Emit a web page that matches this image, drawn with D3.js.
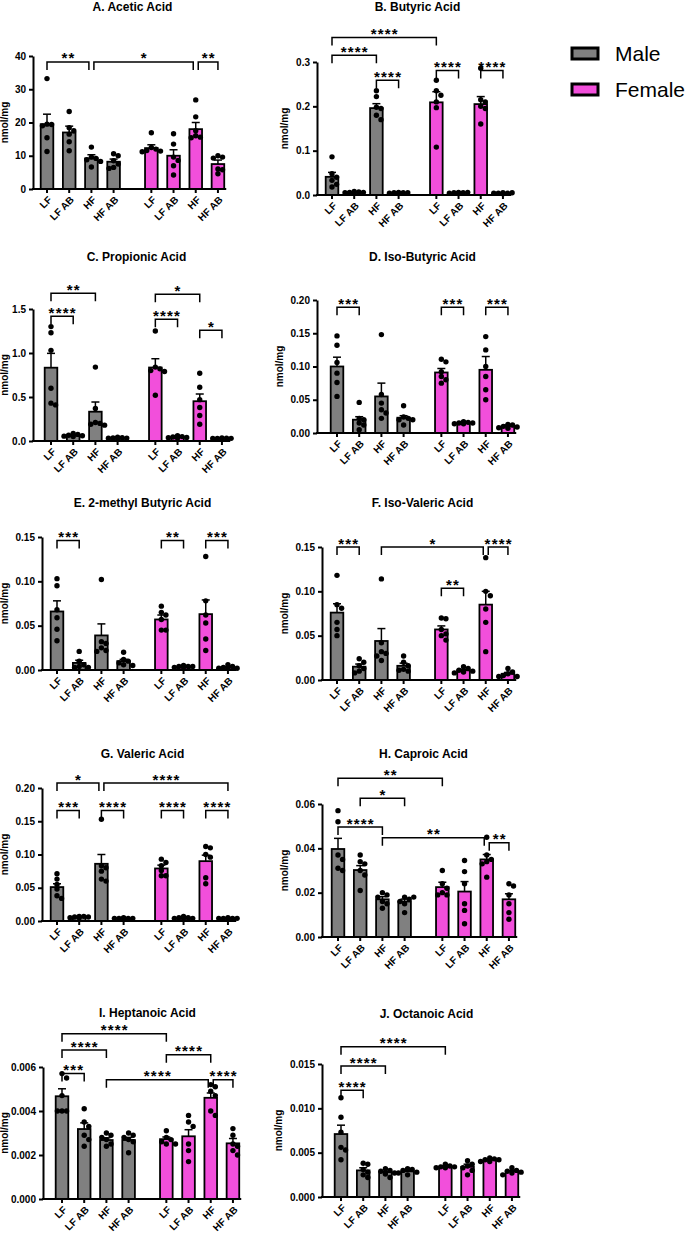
<!DOCTYPE html>
<html><head><meta charset="utf-8">
<script src="https://cdn.jsdelivr.net/npm/d3@7"></script>
<style>
body{margin:0;background:#fff}
svg{display:block}
text{font-family:"Liberation Sans", Arial, Helvetica, sans-serif}
</style>
</head><body>
<svg id="chart" width="688" height="1239"></svg>
<script>
// ---------- DATA ----------
const categories = ["LF","LF AB","HF","HF AB","LF","LF AB","HF","HF AB"];
const sexes = ["Male","Female"];
const sexOfBar = [0,0,0,0,1,1,1,1];

// A. Acetic Acid
const aceticMean = [19.5, 17.0, 9.2, 8.2, 12.3, 10.0, 18.0, 7.5];
const aceticSem  = [3.0, 1.9, 1.1, 0.8, 1.0, 1.8, 2.0, 1.2];
const aceticPts  = [[33.2,19.5,19.4,19.0,15.4,11.3],[23.3,18.4,17.5,16.5,14.2,11.5],[12.6,9.6,9.2,8.8,8.3,6.6],[10.6,10.0,8.5,7.5,6.5,6.2],
                    [16.9,12.5,12.0,11.6,11.4,11.2],[16.6,13.5,9.6,8.6,7.0,4.2],[26.8,21.7,17.5,16.0,15.6,15.4],[10.0,9.6,9.3,6.0,5.8,4.6]];
const aceticSig  = [[0,2,"**",38.2],[2,6,"*",38.2],[6,7,"**",38.2]];
const aceticTicks = [0,10,20,30,40];

// B. Butyric Acid
const butyricMean = [0.041, 0.006, 0.196, 0.005, 0.209, 0.005, 0.205, 0.004];
const butyricSem  = [0.010, 0.0006, 0.010, 0.0004, 0.024, 0.0005, 0.017, 0.0004];
const butyricPts  = [[0.086,0.048,0.040,0.033,0.024,0.018],[0.008,0.007,0.006,0.006,0.005,0.005],[0.235,0.222,0.198,0.195,0.18,0.17],[0.006,0.005,0.005,0.005,0.004,0.004],
                     [0.259,0.235,0.225,0.21,0.197,0.108],[0.006,0.006,0.005,0.005,0.004,0.004],[0.286,0.215,0.21,0.2,0.195,0.16],[0.005,0.005,0.004,0.004,0.004,0.003]];
const butyricSig  = [[0,4,"****",0.355],[0,2,"****",0.315],[2,3,"****",0.259],[4,5,"****",0.281],[6,7,"****",0.281]];
const butyricTicks = [0,0.1,0.2,0.3];

// C. Propionic Acid
const propionicMean = [0.833, 0.065, 0.333, 0.035, 0.835, 0.045, 0.452, 0.030];
const propionicSem  = [0.163, 0.005, 0.110, 0.003, 0.100, 0.005, 0.082, 0.003];
const propionicPts  = [[1.30,1.23,1.03,0.60,0.43,0.41],[0.085,0.075,0.065,0.06,0.055,0.05],[0.84,0.37,0.21,0.2,0.19,0.18],[0.042,0.038,0.035,0.033,0.032,0.03],
                       [1.25,0.84,0.82,0.80,0.79,0.52],[0.06,0.05,0.045,0.04,0.038,0.035],[0.77,0.61,0.47,0.38,0.29,0.19],[0.035,0.032,0.03,0.03,0.028,0.027]];
const propionicSig  = [[0,2,"**",1.678],[0,1,"****",1.417],[4,6,"*",1.667],[4,5,"****",1.383],[6,7,"*",1.258]];
const propionicTicks = [0,0.5,1.0,1.5];

// D. Iso-Butyric Acid
const isobutyricMean = [0.100, 0.020, 0.055, 0.023, 0.091, 0.015, 0.095, 0.010];
const isobutyricSem  = [0.014, 0.0045, 0.020, 0.003, 0.006, 0.002, 0.020, 0.002];
const isobutyricPts  = [[0.146,0.132,0.106,0.09,0.076,0.055],[0.046,0.022,0.02,0.015,0.012,0.005],[0.148,0.058,0.045,0.035,0.03,0.022],[0.041,0.024,0.022,0.02,0.02,0.012],
                        [0.111,0.107,0.092,0.085,0.08,0.075],[0.017,0.016,0.015,0.015,0.014,0.014],[0.145,0.125,0.1,0.085,0.065,0.05],[0.013,0.012,0.01,0.009,0.008,0.007]];
const isobutyricSig  = [[0,1,"***",0.189],[4,5,"***",0.189],[6,7,"***",0.189]];
const isobutyricTicks = [0,0.05,0.10,0.15,0.20];

// E. 2-methyl Butyric Acid
const methylbutyricMean = [0.066, 0.008, 0.039, 0.010, 0.057, 0.004, 0.063, 0.003];
const methylbutyricSem  = [0.012, 0.003, 0.013, 0.002, 0.005, 0.0005, 0.016, 0.0006];
const methylbutyricPts  = [[0.103,0.095,0.068,0.059,0.046,0.033],[0.021,0.01,0.006,0.004,0.003,0.003],[0.102,0.032,0.03,0.025,0.022,0.021],[0.02,0.012,0.01,0.008,0.006,0.005],
                           [0.072,0.065,0.062,0.057,0.045,0.045],[0.005,0.004,0.004,0.004,0.003,0.003],[0.128,0.078,0.062,0.053,0.035,0.022],[0.006,0.004,0.003,0.002,0.002,0.002]];
const methylbutyricSig  = [[0,1,"***",0.146],[4,5,"**",0.146],[6,7,"***",0.146]];
const methylbutyricTicks = [0,0.05,0.10,0.15];

// F. Iso-Valeric Acid
const isovalericMean = [0.076, 0.015, 0.044, 0.016, 0.057, 0.011, 0.085, 0.007];
const isovalericSem  = [0.010, 0.003, 0.014, 0.003, 0.004, 0.001, 0.015, 0.0015];
const isovalericPts  = [[0.118,0.085,0.081,0.065,0.057,0.05],[0.024,0.02,0.016,0.013,0.01,0.008],[0.114,0.042,0.032,0.03,0.027,0.022],[0.027,0.02,0.016,0.012,0.011,0.01],
                        [0.07,0.069,0.057,0.052,0.05,0.045],[0.015,0.013,0.011,0.01,0.009,0.008],[0.138,0.1,0.095,0.08,0.065,0.032],[0.013,0.009,0.007,0.005,0.004,0.004]];
const isovalericSig  = [[0,1,"***",0.15],[2,6,"*",0.15],[6,7,"****",0.15],[4,5,"**",0.1034]];
const isovalericTicks = [0,0.05,0.10,0.15];

// G. Valeric Acid
const valericMean = [0.051, 0.006, 0.086, 0.004, 0.079, 0.005, 0.090, 0.004];
const valericSem  = [0.005, 0.0005, 0.014, 0.0003, 0.005, 0.0005, 0.009, 0.0003];
const valericPts  = [[0.071,0.063,0.055,0.048,0.038,0.034],[0.007,0.007,0.006,0.006,0.005,0.005],[0.153,0.083,0.08,0.075,0.063,0.06],[0.005,0.004,0.004,0.004,0.004,0.004],
                     [0.093,0.088,0.083,0.076,0.068,0.068],[0.007,0.005,0.005,0.004,0.004,0.004],[0.112,0.11,0.1,0.096,0.065,0.056],[0.005,0.004,0.004,0.004,0.004,0.004]];
const valericSig  = [[0,2,"*",0.2075],[2,7,"****",0.2075],[0,1,"***",0.166],[2,3,"****",0.166],[4,5,"****",0.166],[6,7,"****",0.166]];
const valericTicks = [0,0.05,0.10,0.15,0.20];

// H. Caproic Acid
const caproicMean = [0.0397, 0.0302, 0.0170, 0.0160, 0.0225, 0.0205, 0.0350, 0.0170];
const caproicSem  = [0.0048, 0.0020, 0.0012, 0.0011, 0.0022, 0.0045, 0.0022, 0.0025];
const caproicPts  = [[0.057,0.052,0.037,0.035,0.031,0.030],[0.037,0.034,0.033,0.030,0.028,0.021],[0.020,0.019,0.018,0.016,0.015,0.013],[0.018,0.018,0.017,0.016,0.015,0.011],
                     [0.030,0.024,0.022,0.020,0.019,0.019],[0.0345,0.0295,0.024,0.015,0.012,0.006],[0.045,0.037,0.035,0.034,0.033,0.027],[0.024,0.023,0.019,0.015,0.011,0.008]];
const caproicSig  = [[0,4,"**",0.0716],[1,3,"*",0.0626],[0,2,"****",0.0496],[2,6,"**",0.0448],[6,7,"**",0.0425]];
const caproicTicks = [0,0.02,0.04,0.06];

// I. Heptanoic Acid
const heptanoicMean = [0.00467, 0.00318, 0.00268, 0.00268, 0.00272, 0.00285, 0.00460, 0.00253];
const heptanoicSem  = [0.00034, 0.00028, 0.00010, 0.00012, 0.00010, 0.00030, 0.00022, 0.00022];
const heptanoicPts  = [[0.0057,0.0055,0.0047,0.0040,0.0040,0.0040],[0.0041,0.0035,0.0033,0.0029,0.0027,0.0024],[0.0030,0.0029,0.0028,0.0027,0.0025,0.0024],[0.0030,0.0029,0.0028,0.0027,0.0026,0.0021],
                       [0.0031,0.0028,0.0027,0.0026,0.0025,0.0025],[0.0038,0.0035,0.0033,0.0025,0.0022,0.0017],[0.0052,0.0051,0.0049,0.0047,0.0040,0.0038],[0.0032,0.0029,0.0025,0.0024,0.0022,0.0020]];
const heptanoicSig  = [[0,4,"****",0.00751],[0,2,"****",0.00677],[0,1,"***",0.00571],[4,6,"****",0.00656],[2,6,"****",0.00542],[6,7,"****",0.00542]];
const heptanoicTicks = [0,0.002,0.004,0.006];

// J. Octanoic Acid
const octanoicMean = [0.0071, 0.0030, 0.0028, 0.0029, 0.0034, 0.0034, 0.0042, 0.0029];
const octanoicSem  = [0.0010, 0.0003, 0.0001, 0.0001, 0.0001, 0.0003, 0.0001, 0.0001];
const octanoicPts  = [[0.0112,0.0090,0.0073,0.0056,0.0053,0.0042],[0.0038,0.0037,0.0031,0.0028,0.0025,0.0022],[0.0032,0.0030,0.0029,0.0027,0.0026,0.0022],[0.0032,0.0031,0.0030,0.0028,0.0027,0.0025],
                      [0.0037,0.0035,0.0034,0.0034,0.0033,0.0033],[0.0041,0.0037,0.0035,0.0033,0.0030,0.0025],[0.0044,0.0043,0.0042,0.0042,0.0040,0.0040],[0.0033,0.0030,0.0029,0.0028,0.0027,0.0025]];
const octanoicSig  = [[0,4,"****",0.01695],[0,2,"****",0.01477],[0,1,"****",0.01203]];
const octanoicTicks = [0,0.005,0.010,0.015];

// ---------- LAYOUT ----------
const colors = ["#808080", "#f24fdb"];
const slots = [0,1,2,3,4.7,5.7,6.7,7.7];
const panels = [
  {title:"A. Acetic Acid", mean:aceticMean, sem:aceticSem, pts:aceticPts, sig:aceticSig, ticks:aceticTicks, fmt:d3.format("d"),
   axisX:33, y0:189, yTop:56, first:47, titleY:7},
  {title:"B. Butyric Acid", mean:butyricMean, sem:butyricSem, pts:butyricPts, sig:butyricSig, ticks:butyricTicks, fmt:d3.format(".1f"),
   axisX:317, y0:195, yTop:62, first:332, titleY:7},
  {title:"C. Propionic Acid", mean:propionicMean, sem:propionicSem, pts:propionicPts, sig:propionicSig, ticks:propionicTicks, fmt:d3.format(".1f"),
   axisX:33, y0:441, yTop:309, first:51, titleY:257},
  {title:"D. Iso-Butyric Acid", mean:isobutyricMean, sem:isobutyricSem, pts:isobutyricPts, sig:isobutyricSig, ticks:isobutyricTicks, fmt:d3.format(".2f"),
   axisX:317, y0:433, yTop:300, first:337, titleY:257},
  {title:"E. 2-methyl Butyric Acid", mean:methylbutyricMean, sem:methylbutyricSem, pts:methylbutyricPts, sig:methylbutyricSig, ticks:methylbutyricTicks, fmt:d3.format(".2f"),
   axisX:42, y0:670, yTop:537, first:57, titleY:503},
  {title:"F. Iso-Valeric Acid", mean:isovalericMean, sem:isovalericSem, pts:isovalericPts, sig:isovalericSig, ticks:isovalericTicks, fmt:d3.format(".2f"),
   axisX:322, y0:680, yTop:547, first:337, titleY:503},
  {title:"G. Valeric Acid", mean:valericMean, sem:valericSem, pts:valericPts, sig:valericSig, ticks:valericTicks, fmt:d3.format(".2f"),
   axisX:42, y0:921, yTop:788, first:57, titleY:754},
  {title:"H. Caproic Acid", mean:caproicMean, sem:caproicSem, pts:caproicPts, sig:caproicSig, ticks:caproicTicks, fmt:d3.format(".2f"),
   axisX:322, y0:937, yTop:804, first:338, titleY:754},
  {title:"I. Heptanoic Acid", mean:heptanoicMean, sem:heptanoicSem, pts:heptanoicPts, sig:heptanoicSig, ticks:heptanoicTicks, fmt:d3.format(".3f"),
   axisX:43, y0:1199, yTop:1067, first:62, titleY:1013},
  {title:"J. Octanoic Acid", mean:octanoicMean, sem:octanoicSem, pts:octanoicPts, sig:octanoicSig, ticks:octanoicTicks, fmt:d3.format(".3f"),
   axisX:322, y0:1197, yTop:1064, first:341, titleY:1014}
];

const svg = d3.select("#chart");
const STEP = 22.2, BW = 12.6, R = 2.7;

function beeswarm(values, y, cx) {
  const order = values.map(v=>({v, py:y(v)})).sort((a,b)=>a.py-b.py);
  const placed = [];
  const step = R*1.7, minD = R*1.7;
  const ks = [0,1,-1,2,-2];
  order.forEach(o => {
    let best = null, bestD = -1;
    for (const k of ks) {
      const px = cx + k*step;
      let md = Infinity;
      placed.forEach(p => { md = Math.min(md, Math.hypot(p.px-px, p.py-o.py)); });
      if (md >= minD) { best = px; break; }
      if (md > bestD) { bestD = md; best = px; }
    }
    placed.push({px:best, py:o.py});
  });
  return placed;
}

panels.forEach(p => {
  const g = svg.append("g");
  const y = d3.scaleLinear().domain([0, d3.max(p.ticks)]).range([p.y0, p.yTop]);
  const x = d3.scaleLinear().domain([0, 1]).range([p.first, p.first + STEP]);
  const cx = i => x(slots[i]);
  const lastX = cx(7);

  // title
  g.append("text").attr("x", (cx(0)+lastX)/2).attr("y", p.titleY).attr("dy","0.35em")
    .attr("text-anchor","middle").attr("font-size",12).attr("font-weight","bold").text(p.title);

  // bars
  g.selectAll("rect.bar").data(p.mean).join("rect").attr("class","bar")
    .attr("x",(d,i)=>cx(i)-BW/2).attr("width",BW)
    .attr("y",d=>y(d)).attr("height",d=>p.y0-y(d))
    .attr("fill",(d,i)=>colors[sexOfBar[i]]).attr("stroke","#000").attr("stroke-width",1.8);

  // error bars
  p.mean.forEach((m,i)=>{
    const yt = y(m + p.sem[i]);
    g.append("line").attr("x1",cx(i)).attr("x2",cx(i)).attr("y1",y(m)).attr("y2",yt).attr("stroke","#000").attr("stroke-width",1.5);
    g.append("line").attr("x1",cx(i)-4).attr("x2",cx(i)+4).attr("y1",yt).attr("y2",yt).attr("stroke","#000").attr("stroke-width",1.5);
  });

  // points
  p.pts.forEach((vals,i)=>{
    const placed = beeswarm(vals, y, cx(i));
    g.selectAll(null).data(placed).join("circle")
      .attr("cx",d=>d.px).attr("cy",d=>d.py).attr("r",R).attr("fill","#000");
  });

  // y axis
  const ya = g.append("g").attr("transform",`translate(${p.axisX},0)`)
    .call(d3.axisLeft(y).tickValues(p.ticks).tickFormat(p.fmt).tickSize(4).tickSizeOuter(0));
  ya.select(".domain").attr("stroke-width",2);
  ya.selectAll(".tick line").attr("stroke-width",2);
  ya.selectAll(".tick text").attr("font-size",10).attr("font-weight","bold").attr("fill","#000")
    .attr("font-family",'"Liberation Sans", Arial, sans-serif');
  const bb = ya.node().getBBox();
  const lx = Math.max(8, p.axisX + bb.x - 8);
  g.append("text").attr("transform",`translate(${lx},${(p.y0+p.yTop)/2}) rotate(-90)`)
    .attr("text-anchor","middle").attr("font-size",10).attr("font-weight","bold").text("nmol/mg");

  // x axis
  const xEnd = lastX + BW/2 + 2;
  g.append("line").attr("x1",p.axisX-1).attr("x2",xEnd).attr("y1",p.y0).attr("y2",p.y0).attr("stroke","#000").attr("stroke-width",2);
  categories.forEach((c,i)=>{
    g.append("line").attr("x1",cx(i)).attr("x2",cx(i)).attr("y1",p.y0).attr("y2",p.y0+4).attr("stroke","#000").attr("stroke-width",2);
    g.append("text").attr("transform",`translate(${cx(i)+3},${p.y0+9}) rotate(-45)`)
      .attr("text-anchor","end").attr("dy","0.35em").attr("font-size",10).attr("font-weight","bold").text(c);
  });

  // significance brackets
  const br = p.sig.map(s=>({a:s[0], b:s[1], label:s[2], v:s[3], x1:cx(s[0]), x2:cx(s[1])}));
  br.forEach(b1=>br.forEach(b2=>{
    if (b1!==b2 && b1.b===b2.a && Math.abs(y(b1.v)-y(b2.v))<6) { b1.x2 = cx(b1.b)-2.5; b2.x1 = cx(b2.a)+2.5; }
  }));
  br.forEach(b=>{
    const yy = y(b.v);
    g.append("path").attr("d",`M${b.x1},${yy+8}V${yy}H${b.x2}V${yy+8}`)
      .attr("fill","none").attr("stroke","#000").attr("stroke-width",1.5);
    g.append("text").attr("x",(b.x1+b.x2)/2 + 0.6).attr("y",yy+1.5).attr("text-anchor","middle")
      .attr("font-size",15).attr("font-weight","bold").attr("letter-spacing",1.2).text(b.label);
  });
});

// legend
const lg = svg.append("g");
sexes.forEach((s,i)=>{
  lg.append("rect").attr("x",572).attr("y",48+i*36).attr("width",26).attr("height",11)
    .attr("fill",colors[i]).attr("stroke","#000").attr("stroke-width",3);
  lg.append("text").attr("x",615).attr("y",61+i*36).attr("font-size",21).text(s);
});
</script>
</body></html>
